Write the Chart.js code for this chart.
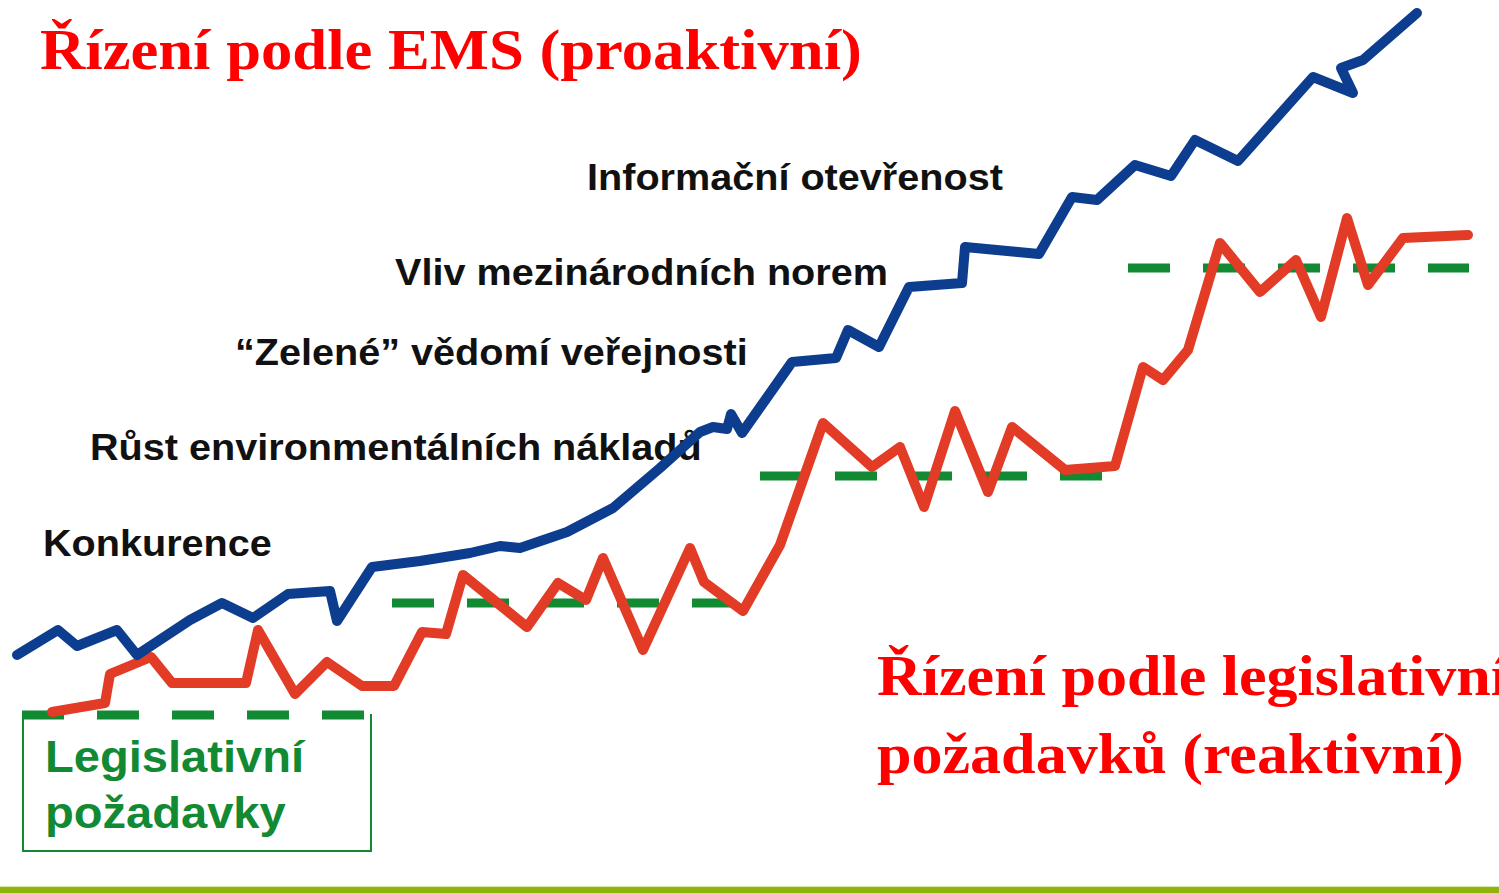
<!DOCTYPE html>
<html lang="cs">
<head>
<meta charset="utf-8">
<title>Řízení podle EMS</title>
<script src="https://cdn.jsdelivr.net/npm/chart.js@4.4.1/dist/chart.umd.min.js"></script>
<style>
    html, body { margin: 0; padding: 0; background: #fff; }
    #wrap { position: relative; width: 1499px; height: 893px; overflow: hidden; background: #fff; }
    #chartBox { position: absolute; left: 0; top: 0; width: 1499px; height: 893px; z-index: 2; }
    .lbl { position: absolute; white-space: nowrap; line-height: 1; transform-origin: 0 0; }
    .head { font-family: "Liberation Serif", "Times New Roman", serif; font-weight: bold; font-size: 58px; color: #ff0000; transform: scaleX(1.08); }
    .head2 { transform: scaleX(1.07); }
    .factor { font-family: "Liberation Sans", Arial, sans-serif; font-weight: bold; font-size: 36px; color: #111; transform: scaleX(1.1); }
    .legis { font-family: "Liberation Sans", Arial, sans-serif; font-weight: bold; font-size: 44px; color: #118a33; transform: scaleX(1.07); }
    #legBox { position: absolute; left: 22px; top: 714px; width: 346px; height: 136px; border: 2px solid #118a33; border-top: none; z-index: 1; }
    #bottomBar { position: absolute; left: 0; top: 886px; width: 1499px; height: 7px; background: #8fb50c; border-top: 1px solid #d8e8a8; }
</style>
</head>
<body>
<div id="wrap">
    <div class="lbl head" style="left:40px; top:21px;">Řízení podle EMS (proaktivní)</div>

    <div class="lbl factor" style="left:587px; top:160px;">Informační otevřenost</div>
    <div class="lbl factor" style="left:395px; top:255px;">Vliv mezinárodních norem</div>
    <div class="lbl factor" style="left:235px; top:335px;">“Zelené” vědomí veřejnosti</div>
    <div class="lbl factor" style="left:90px; top:430px;">Růst environmentálních nákladů</div>
    <div class="lbl factor" style="left:43px; top:526px;">Konkurence</div>

    <div id="legBox"></div>
    <div class="lbl legis" style="left:45px; top:735px;">Legislativní</div>
    <div class="lbl legis" style="left:45px; top:791px;">požadavky</div>

    <div class="lbl head head2" style="left:877px; top:647px;">Řízení podle legislativních</div>
    <div class="lbl head head2" style="left:877px; top:725px;">požadavků (reaktivní)</div>

    <div id="chartBox"><canvas id="emsChart" width="1499" height="893"></canvas></div>
    <div id="bottomBar"></div>
</div>

<script>
// Proaktivní křivka (EMS) - modrá
const emsX = [1.7, 5.8, 7.7, 11.7, 13.7, 19.0, 22.2, 25.3, 28.8, 33.0, 33.7, 37.2, 42.0, 47.0, 50.0, 52.0,
    56.7, 61.3, 66.0, 70.0, 71.3, 72.7, 73.1, 74.2, 79.2, 83.6, 84.8, 87.9, 90.9, 96.2, 96.5, 103.9,
    107.2, 109.7, 113.5, 117.1, 119.5, 123.8, 131.3, 135.3, 134.1, 136.3, 141.7];
const emsY = [23.8, 26.3, 24.7, 26.3, 23.8, 27.3, 29.0, 27.5, 29.9, 30.2, 27.2, 32.6, 33.2, 34.0, 34.7, 34.5,
    36.1, 38.5, 42.5, 46.1, 46.6, 46.4, 47.9, 46.0, 53.1, 53.5, 56.3, 54.6, 60.6, 61.0, 64.6, 63.9,
    69.6, 69.3, 72.8, 71.7, 75.3, 73.2, 81.6, 80.0, 82.5, 83.3, 88.0];

// Reaktivní křivka (legislativa) - červená
const legX = [5.2, 10.5, 11.0, 15.1, 17.2, 24.6, 25.8, 29.5, 32.7, 36.2, 39.4, 42.2, 44.6, 46.3, 52.7, 55.8,
    58.6, 60.3, 64.3, 69.0, 70.4, 74.3, 78.0, 82.3, 87.2, 90.0, 92.4, 95.5, 98.8, 101.2, 106.5, 111.5,
    114.3, 116.3, 118.8, 122.0, 126.0, 129.6, 132.1, 134.7, 136.8, 140.3, 146.8];
const legY = [18.1, 19.0, 21.9, 23.6, 21.0, 21.0, 26.3, 19.9, 23.1, 20.7, 20.7, 26.1, 25.9, 31.8, 26.6, 31.0,
    29.3, 33.5, 24.3, 34.5, 31.1, 28.2, 34.8, 47.0, 42.6, 44.6, 38.6, 48.2, 40.1, 46.6, 42.3, 42.7,
    52.6, 51.3, 54.3, 65.0, 60.1, 63.3, 57.6, 67.5, 60.8, 65.5, 65.8];

// Úrovně legislativních požadavků (schody)
const stepStart = [2.2, 39.2, 76.0, 112.8];
const stepEnd = [36.5, 73.2, 110.2, 146.9];
const stepLevel = [17.8, 29.0, 41.7, 62.5];

const toPoints = (xs, ys) => xs.map((x, i) => ({ x: x, y: ys[i] }));

const datasets = [];
stepLevel.forEach((lvl, i) => {
    datasets.push({
        label: 'Úroveň ' + (i + 1),
        data: [{ x: stepStart[i], y: lvl }, { x: stepEnd[i], y: lvl }],
        borderColor: '#118a33',
        borderWidth: 9,
        borderDash: [42, 33],
        borderCapStyle: 'butt',
        pointRadius: 0,
        order: 3
    });
});
datasets.push({
    label: 'Legislativa',
    data: toPoints(legX, legY),
    borderColor: '#e23b26',
    borderWidth: 10,
    borderJoinStyle: 'round',
    borderCapStyle: 'round',
    pointRadius: 0,
    tension: 0,
    order: 2
});
datasets.push({
    label: 'EMS',
    data: toPoints(emsX, emsY),
    borderColor: '#0c3d8e',
    borderWidth: 10,
    borderJoinStyle: 'round',
    borderCapStyle: 'round',
    pointRadius: 0,
    tension: 0,
    order: 1
});

const ctx = document.getElementById('emsChart').getContext('2d');
new Chart(ctx, {
    type: 'line',
    data: { datasets: datasets },
    options: {
        responsive: false,
        maintainAspectRatio: false,
        devicePixelRatio: 1,
        animation: false,
        layout: { padding: 0 },
        scales: {
            x: { type: 'linear', min: 0, max: 149.9, display: false },
            y: { type: 'linear', min: 0, max: 89.3, display: false }
        },
        plugins: {
            legend: { display: false },
            tooltip: { enabled: false },
            title: { display: false }
        },
        elements: { line: { fill: false } }
    }
});
</script>
</body>
</html>
